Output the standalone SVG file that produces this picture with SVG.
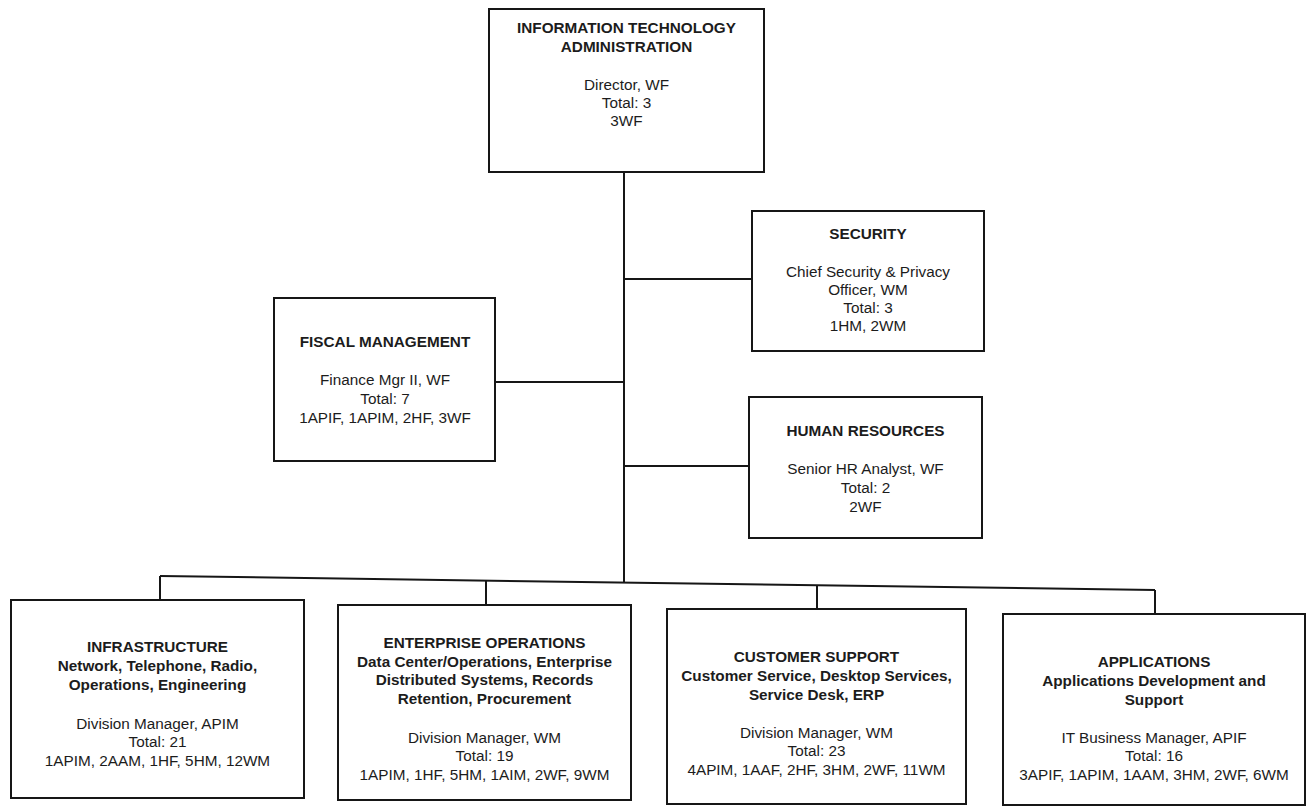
<svg xmlns="http://www.w3.org/2000/svg" width="1307" height="812" viewBox="0 0 1307 812">
<style>
.box{fill:#fff;stroke:#161616;stroke-width:2}
.ln{stroke:#161616;stroke-width:2;fill:none}
text{font-family:"Liberation Sans",Arial,sans-serif;font-size:15.3px;fill:#1c1c1c;text-anchor:middle}
.b{font-weight:bold}
</style>
<rect width="1307" height="812" fill="#fff"/>
<g id="connectors">
<path class="ln" d="M624 172 V582"/>
<path class="ln" d="M624 279 H752"/>
<path class="ln" d="M495 382 H624"/>
<path class="ln" d="M624 466 H749"/>
<path class="ln" d="M160 576 L1155 590"/>
<path class="ln" d="M160 576 V600"/>
<path class="ln" d="M486 580.6 V605"/>
<path class="ln" d="M817 585.2 V609"/>
<path class="ln" d="M1155 590 V614"/>
</g>
<g id="it-admin">
<rect class="box" x="489" y="9" width="275" height="163"/>
<text class="b" x="626.5" y="33">INFORMATION TECHNOLOGY</text>
<text class="b" x="626.5" y="52">ADMINISTRATION</text>
<text x="626.5" y="90">Director, WF</text>
<text x="626.5" y="108">Total: 3</text>
<text x="626.5" y="126">3WF</text>
</g>
<g id="security">
<rect class="box" x="752" y="211" width="232" height="140"/>
<text class="b" x="868" y="239">SECURITY</text>
<text x="868" y="277">Chief Security &amp; Privacy</text>
<text x="868" y="295">Officer, WM</text>
<text x="868" y="313">Total: 3</text>
<text x="868" y="331">1HM, 2WM</text>
</g>
<g id="fiscal">
<rect class="box" x="274" y="298" width="221" height="163"/>
<text class="b" x="385" y="347">FISCAL MANAGEMENT</text>
<text x="385" y="385">Finance Mgr II, WF</text>
<text x="385" y="404">Total: 7</text>
<text x="385" y="423">1APIF, 1APIM, 2HF, 3WF</text>
</g>
<g id="hr">
<rect class="box" x="749" y="397" width="233" height="141"/>
<text class="b" x="865.5" y="436">HUMAN RESOURCES</text>
<text x="865.5" y="474">Senior HR Analyst, WF</text>
<text x="865.5" y="493">Total: 2</text>
<text x="865.5" y="512">2WF</text>
</g>
<g id="infrastructure">
<rect class="box" x="11" y="600" width="293" height="198"/>
<text class="b" x="157.5" y="652">INFRASTRUCTURE</text>
<text class="b" x="157.5" y="671">Network, Telephone, Radio,</text>
<text class="b" x="157.5" y="690">Operations, Engineering</text>
<text x="157.5" y="729">Division Manager, APIM</text>
<text x="157.5" y="747">Total: 21</text>
<text x="157.5" y="766">1APIM, 2AAM, 1HF, 5HM, 12WM</text>
</g>
<g id="enterprise-operations">
<rect class="box" x="338" y="605" width="293" height="195"/>
<text class="b" x="484.5" y="648">ENTERPRISE OPERATIONS</text>
<text class="b" x="484.5" y="667">Data Center/Operations, Enterprise</text>
<text class="b" x="484.5" y="685">Distributed Systems, Records</text>
<text class="b" x="484.5" y="704">Retention, Procurement</text>
<text x="484.5" y="743">Division Manager, WM</text>
<text x="484.5" y="761">Total: 19</text>
<text x="484.5" y="780">1APIM, 1HF, 5HM, 1AIM, 2WF, 9WM</text>
</g>
<g id="customer-support">
<rect class="box" x="667" y="609" width="299" height="195"/>
<text class="b" x="816.5" y="662">CUSTOMER SUPPORT</text>
<text class="b" x="816.5" y="681">Customer Service, Desktop Services,</text>
<text class="b" x="816.5" y="700">Service Desk, ERP</text>
<text x="816.5" y="738">Division Manager, WM</text>
<text x="816.5" y="756">Total: 23</text>
<text x="816.5" y="775">4APIM, 1AAF, 2HF, 3HM, 2WF, 11WM</text>
</g>
<g id="applications">
<rect class="box" x="1003" y="614" width="302" height="191"/>
<text class="b" x="1154" y="667">APPLICATIONS</text>
<text class="b" x="1154" y="686">Applications Development and</text>
<text class="b" x="1154" y="705">Support</text>
<text x="1154" y="743">IT Business Manager, APIF</text>
<text x="1154" y="761">Total: 16</text>
<text x="1154" y="780">3APIF, 1APIM, 1AAM, 3HM, 2WF, 6WM</text>
</g>
</svg>
